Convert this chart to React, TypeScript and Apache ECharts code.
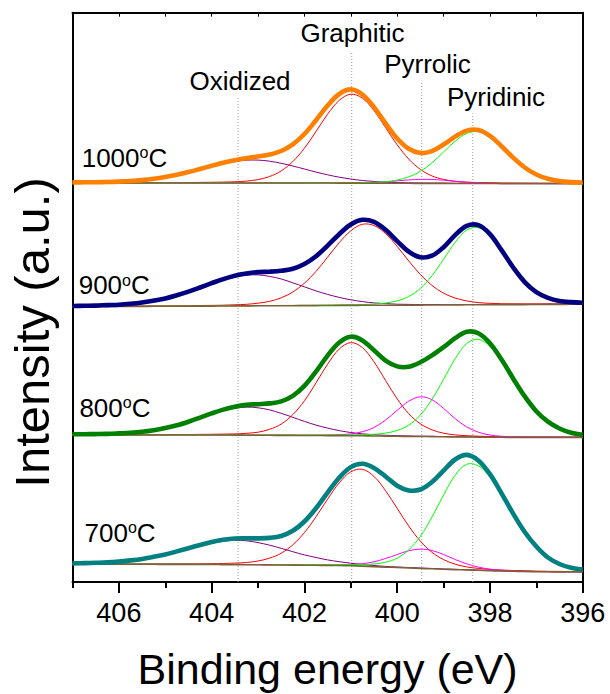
import React, { useEffect, useRef } from 'react';
import * as echarts from 'echarts';

const FONT = '"Liberation Sans", Arial, Helvetica, sans-serif';

// Binding-energy grid shared by every curve (eV)
const energy = [
  407, 406.75, 406.5, 406.25, 406, 405.75, 405.5, 405.25, 405, 404.75,
  404.5, 404.25, 404, 403.75, 403.5, 403.25, 403, 402.75, 402.5, 402.25,
  402, 401.75, 401.5, 401.25, 401, 400.75, 400.5, 400.25, 400, 399.75,
  399.5, 399.25, 399, 398.75, 398.5, 398.25, 398, 397.75, 397.5, 397.25,
  397, 396.75, 396.5, 396.25, 396,
];

const majorTicks = [396, 398, 400, 402, 404, 406];
const minorTicks = [397, 399, 401, 403, 405, 407];
const topTicks = [396, 397, 398, 399, 400, 401, 402, 403, 404, 405, 406, 407];

const peakNames = ['Oxidized', 'Graphitic', 'Pyrrolic', 'Pyridinic'];
const peakPositions = [403.43, 400.98, 399.47, 398.37];

const temperatures = ['1000', '900', '800', '700'];
// vertical stacking of the four spectra (intensity units)
const stackOffsets = [399, 275.3, 147, 17.7];

// ---- 1000 °C ----
const background1000 = [
  0, 0, 0, 0, 0, 0, 0, 0, 0, 0,
  0, 0, 0, 0, 0, 0, 0, 0, 0, 0,
  0, 0, 0, -0.1, -0.1, -0.2, -0.2, -0.3, -0.3, -0.3,
  -0.4, -0.4, -0.4, -0.5, -0.5, -0.5, -0.5, -0.6, -0.6, -0.6,
  -0.6, -0.6, -0.6, -0.6, -0.6,
];
const oxidized1000 = [
  0.3, 0.4, 0.5, 0.7, 1.0, 1.6, 2.5, 3.7, 5.5, 7.7,
  10.3, 13.3, 16.4, 19.2, 21.5, 22.8, 22.9, 21.8, 19.7, 17.0,
  14.0, 10.9, 8.2, 5.9, 4.1, 2.7, 1.8, 1.1, 0.7, 0.5,
  0.4, 0.3, 0.3, 0.2, 0.2, 0.2, 0.2, 0.2, 0.2, 0.1,
  0.1, 0.1, 0.1, 0.1, 0.1,
];
const graphitic1000 = [
  0.2, 0.2, 0.2, 0.2, 0.3, 0.3, 0.3, 0.4, 0.4, 0.5,
  0.5, 0.6, 0.7, 0.9, 1.2, 1.9, 3.4, 6.5, 12.1, 21.4,
  34.8, 51.5, 68.8, 82.7, 88.9, 85.0, 72.6, 55.7, 38.5, 24.2,
  14.0, 7.5, 4.0, 2.2, 1.3, 1.0, 0.8, 0.6, 0.5, 0.5,
  0.4, 0.4, 0.3, 0.3, 0.3,
];
const pyrrolic1000 = [
  0, 0, 0, 0, 0, 0, 0, 0, 0, 0,
  0, 0, 0, 0, 0, 0, 0, 0, 0, 0,
  0, 0.1, 0.1, 0.1, 0.2, 0.4, 0.8, 1.5, 2.4, 3.4,
  4.0, 3.9, 3.2, 2.2, 1.3, 0.7, 0.3, 0.1, 0.1, 0.1,
  0.1, 0, 0, 0, 0,
];
const pyridinic1000 = [
  0.1, 0.1, 0.1, 0.1, 0.1, 0.1, 0.1, 0.1, 0.1, 0.1,
  0.1, 0.1, 0.1, 0.1, 0.1, 0.1, 0.2, 0.2, 0.2, 0.2,
  0.2, 0.3, 0.3, 0.4, 0.5, 0.6, 0.9, 1.6, 3.2, 6.4,
  12.0, 20.6, 31.4, 42.3, 50.1, 51.7, 46.4, 36.4, 25.2, 15.4,
  8.5, 4.3, 2.1, 1.1, 0.7,
];

// ---- 900 °C ----
const background900 = [
  0, 0.1, 0.1, 0.2, 0.2, 0.3, 0.3, 0.4, 0.4, 0.5,
  0.5, 0.6, 0.6, 0.7, 0.8, 0.8, 0.9, 0.9, 1.0, 1.0,
  1.1, 1.1, 1.2, 1.3, 1.3, 1.4, 1.4, 1.5, 1.5, 1.6,
  1.6, 1.7, 1.8, 1.8, 1.9, 1.9, 2.0, 2.0, 2.1, 2.1,
  2.2, 2.3, 2.3, 2.4, 2.4,
];
const oxidized900 = [
  0.4, 0.5, 0.7, 1.0, 1.4, 2.2, 3.5, 5.2, 7.4, 10.4,
  14.0, 17.9, 22.1, 26.0, 29.0, 30.7, 30.9, 29.4, 26.7, 22.9,
  18.8, 14.7, 11.1, 8.0, 5.6, 3.7, 2.4, 1.6, 1.0, 0.7,
  0.5, 0.4, 0.4, 0.3, 0.3, 0.3, 0.3, 0.2, 0.2, 0.2,
  0.2, 0.2, 0.2, 0.2, 0.2,
];
const graphitic900 = [
  0.2, 0.2, 0.2, 0.3, 0.3, 0.3, 0.3, 0.4, 0.4, 0.5,
  0.5, 0.6, 0.7, 0.8, 1.1, 1.6, 2.6, 4.5, 7.9, 13.7,
  22.4, 34.2, 48.3, 62.7, 74.6, 81.0, 79.8, 71.6, 58.8, 44.1,
  30.6, 19.6, 11.7, 6.9, 3.9, 2.2, 1.4, 1.0, 0.8, 0.7,
  0.6, 0.5, 0.4, 0.4, 0.4,
];
const pyridinic900 = [
  0.1, 0.1, 0.1, 0.1, 0.1, 0.1, 0.1, 0.1, 0.1, 0.1,
  0.1, 0.1, 0.1, 0.1, 0.1, 0.1, 0.2, 0.2, 0.3, 0.3,
  0.3, 0.4, 0.5, 0.5, 0.7, 0.8, 1.2, 2.2, 4.3, 8.6,
  16.7, 29.3, 45.6, 62.6, 74.7, 77.1, 68.9, 53.4, 36.2, 21.6,
  11.6, 5.9, 2.9, 1.6, 1.0,
];

// ---- 800 °C ----
const background800 = [
  0, 0, 0, 0, 0, 0, 0, 0, 0, 0,
  0, 0, 0, 0, -0.1, -0.2, -0.3, -0.3, -0.4, -0.4,
  -0.5, -0.5, -0.6, -0.6, -0.7, -0.8, -1.0, -1.1, -1.3, -1.4,
  -1.5, -1.6, -1.8, -1.9, -2.0, -2.1, -2.2, -2.3, -2.4, -2.4,
  -2.4, -2.4, -2.4, -2.4, -2.4,
];
const oxidized800 = [
  0.3, 0.4, 0.5, 0.7, 1.1, 1.7, 2.7, 4.2, 6.4, 9.0,
  12.5, 16.5, 20.6, 24.2, 26.9, 28.1, 27.5, 25.4, 22.1, 18.1,
  14.1, 10.4, 7.5, 5.0, 3.2, 2.0, 1.3, 0.8, 0.6, 0.4,
  0.3, 0.3, 0.2, 0.2, 0.2, 0.2, 0.2, 0.1, 0.1, 0.1,
  0.1, 0.1, 0.1, 0.1, 0.1,
];
const graphitic800 = [
  0.2, 0.2, 0.2, 0.2, 0.3, 0.3, 0.3, 0.4, 0.4, 0.5,
  0.5, 0.6, 0.7, 0.9, 1.2, 1.9, 3.1, 6.0, 11.3, 20.8,
  34.7, 52.6, 71.4, 86.5, 93.1, 88.2, 74.2, 55.6, 37.4, 22.7,
  12.7, 6.8, 3.6, 2.0, 1.3, 0.9, 0.7, 0.6, 0.5, 0.5,
  0.4, 0.4, 0.3, 0.3, 0.3,
];
const pyrrolic800 = [
  0.1, 0.1, 0.1, 0.1, 0.1, 0.1, 0.1, 0.1, 0.1, 0.1,
  0.1, 0.1, 0.1, 0.1, 0.1, 0.1, 0.2, 0.2, 0.2, 0.2,
  0.3, 0.4, 0.5, 0.9, 1.8, 4.1, 8.5, 16.1, 26.0, 35.2,
  39.7, 36.9, 28.4, 18.3, 10.1, 4.9, 2.2, 1.0, 0.6, 0.4,
  0.3, 0.3, 0.2, 0.2, 0.2,
];
const pyridinic800 = [
  0.1, 0.1, 0.1, 0.1, 0.1, 0.1, 0.1, 0.1, 0.1, 0.1,
  0.2, 0.2, 0.2, 0.2, 0.2, 0.2, 0.3, 0.3, 0.4, 0.4,
  0.5, 0.5, 0.6, 0.7, 0.9, 1.1, 1.7, 3.0, 5.9, 11.3,
  21.5, 37.2, 57.4, 78.2, 93.6, 97.8, 90.8, 76.0, 57.8, 40.0,
  25.4, 14.9, 8.3, 4.0, 2.0,
];

// ---- 700 °C ----
const background700 = [
  0, 0, 0, 0, 0, 0, 0, 0, -0.1, -0.1,
  -0.1, -0.2, -0.2, -0.3, -0.3, -0.4, -0.5, -0.6, -0.7, -0.8,
  -0.9, -1.0, -1.1, -1.2, -1.4, -1.8, -2.3, -2.8, -3.2, -3.6,
  -4.1, -4.5, -4.9, -5.3, -5.6, -6.0, -6.4, -6.7, -7.0, -7.2,
  -7.4, -7.5, -7.6, -7.6, -7.6,
];
const oxidized700 = [
  0.4, 0.6, 0.9, 1.3, 2.1, 3.2, 4.7, 6.8, 9.1, 12.1,
  15.3, 18.5, 21.3, 23.4, 24.3, 23.9, 22.2, 19.7, 16.7, 13.4,
  10.3, 7.8, 5.5, 3.8, 2.5, 1.6, 1.1, 0.7, 0.5, 0.4,
  0.3, 0.3, 0.2, 0.2, 0.2, 0.2, 0.2, 0.1, 0.1, 0.1,
  0.1, 0.1, 0.1, 0.1, 0.1,
];
const graphitic700 = [
  0.2, 0.3, 0.3, 0.3, 0.3, 0.4, 0.4, 0.4, 0.5, 0.6,
  0.6, 0.7, 0.9, 1.1, 1.5, 2.2, 3.8, 6.8, 11.8, 20.3,
  32.6, 48.5, 66.3, 82.6, 93.9, 96.8, 90.2, 76.4, 59.1, 41.8,
  27.3, 16.5, 9.6, 5.4, 3.0, 1.9, 1.3, 1.0, 0.8, 0.7,
  0.6, 0.5, 0.5, 0.4, 0.4,
];
const pyrrolic700 = [
  0.1, 0.1, 0.1, 0.1, 0.1, 0.1, 0.1, 0.1, 0.1, 0.1,
  0.1, 0.1, 0.1, 0.1, 0.1, 0.1, 0.1, 0.1, 0.1, 0.1,
  0.2, 0.2, 0.3, 0.5, 1.1, 2.4, 4.8, 8.6, 12.9, 17.2,
  19.3, 18.3, 14.7, 10.1, 6.1, 3.2, 1.5, 0.7, 0.4, 0.2,
  0.2, 0.2, 0.1, 0.1, 0.1,
];
const pyridinic700 = [
  0.2, 0.2, 0.2, 0.2, 0.2, 0.2, 0.2, 0.2, 0.2, 0.2,
  0.2, 0.2, 0.2, 0.2, 0.2, 0.2, 0.3, 0.4, 0.4, 0.5,
  0.6, 0.6, 0.7, 0.9, 1.1, 1.6, 2.6, 4.9, 9.3, 18.1,
  32.0, 51.7, 74.1, 94.4, 105.7, 104.5, 93.5, 75.9, 56.4, 38.5,
  24.3, 13.5, 7.2, 3.6, 1.8,
];

const envelopeColors = ['#FF8000', '#000080', '#008000', '#008080'];
const componentColors = ['#800080', '#FF0000', '#FF00FF', '#00FF00'];
const backgroundColor = '#80603A';

const spectra = [
  { background: background1000, parts: [oxidized1000, graphitic1000, pyrrolic1000, pyridinic1000] },
  { background: background900, parts: [oxidized900, graphitic900, null, pyridinic900] },
  { background: background800, parts: [oxidized800, graphitic800, pyrrolic800, pyridinic800] },
  { background: background700, parts: [oxidized700, graphitic700, pyrrolic700, pyridinic700] },
];

// Layout of the annotation texts (pixels)
const guideTops = [483.7, 530.3, 500.3, 468.7];
const peakLabelPos = [[240, 80.5], [352.5, 33.4], [427.5, 64.3], [496, 96.7]];
const tempLabelPos = [[81.7, 157.5], [78.7, 285], [79.4, 407.5], [84.6, 532.8]];

const Y_MAX = 569.3;

// One smooth curve drawn as a single polyline through the axis scales
function curveSeries(points: number[][], color: string, width: number, z: number) {
  return {
    type: 'custom',
    coordinateSystem: 'cartesian2d',
    data: points,
    encode: { x: 0, y: 1 },
    z,
    silent: true,
    clip: true,
    renderItem: (params: any, api: any) => {
      if (params.dataIndexInside !== 0) return null;
      const n = params.dataInsideLength;
      const pts: number[][] = [];
      for (let i = 0; i < n; i++) {
        pts.push(api.coord([api.value(0, i), api.value(1, i)]));
      }
      return {
        type: 'polyline',
        shape: { points: pts, smooth: 0.35 },
        style: { stroke: color, lineWidth: width, fill: null, lineJoin: 'round' },
      };
    },
  };
}

export default function App() {
  const ref = useRef<HTMLDivElement>(null);

  useEffect(() => {
    if (!ref.current) return;
    const chart = echarts.init(ref.current, null, { renderer: 'svg' });

    const series: any[] = [];

    peakPositions.forEach((x, k) => {
      series.push({
        type: 'line',
        data: [[x, 0], [x, guideTops[k]]],
        symbol: 'none',
        silent: true,
        z: 1,
        lineStyle: { color: '#9a9a9a', width: 1, type: [1, 2] },
      });
    });

    spectra.forEach((s, si) => {
      const off = stackOffsets[si];
      s.parts.forEach((p, k) => {
        if (!p) return;
        series.push(curveSeries(energy.map((e, i) => [e, off + s.background[i] + p[i]]), componentColors[k], 1, 2));
      });
      series.push(curveSeries(energy.map((e, i) => [e, off + s.background[i]]), backgroundColor, 1.6, 3));
      series.push(curveSeries(
        energy.map((e, i) => {
          let total = s.background[i];
          s.parts.forEach((p) => { if (p) total += p[i]; });
          return [e, off + total];
        }),
        envelopeColors[si], 4.6, 4,
      ));
    });

    const graphic: any[] = [];
    peakNames.forEach((name, k) => {
      graphic.push({
        type: 'text',
        x: peakLabelPos[k][0],
        y: peakLabelPos[k][1],
        z: 10,
        style: {
          text: name,
          fontSize: 26,
          fontFamily: FONT,
          fill: '#000',
          align: 'center',
          verticalAlign: 'middle',
        },
      });
    });
    temperatures.forEach((t, k) => {
      graphic.push({
        type: 'text',
        x: tempLabelPos[k][0],
        y: tempLabelPos[k][1],
        z: 10,
        style: {
          text: `{n|${t}}{s|o}{n|C}`,
          fill: '#000',
          align: 'left',
          verticalAlign: 'middle',
          rich: {
            n: { fontSize: 26, fontFamily: FONT, fill: '#000' },
            s: { fontSize: 16, fontFamily: FONT, fill: '#000', verticalAlign: 'top' },
          },
        },
      });
    });
    graphic.push({
      type: 'text',
      x: 31.5,
      y: 332.5,
      rotation: Math.PI / 2,
      style: {
        text: 'Intensity (a.u.)',
        fontSize: 49,
        fontFamily: FONT,
        fill: '#000',
        align: 'center',
        verticalAlign: 'middle',
      },
    });
    graphic.push({
      type: 'text',
      x: 327.6,
      y: 668.7,
      style: {
        text: 'Binding energy (eV)',
        fontSize: 43,
        fontFamily: FONT,
        fill: '#000',
        align: 'center',
        verticalAlign: 'middle',
      },
    });

    const frameLine = { show: true, onZero: false, lineStyle: { color: '#000', width: 2 } };

    chart.setOption({
      animation: false,
      backgroundColor: '#fff',
      grid: { left: 72.5, right: 27.3, top: 12.7, bottom: 112, containLabel: false },
      xAxis: [
        {
          type: 'value', position: 'bottom', min: 396, max: 407, inverse: true,
          axisLine: frameLine,
          axisTick: { show: true, inside: false, length: 11, customValues: majorTicks, lineStyle: { color: '#000', width: 2 } },
          axisLabel: { show: true, customValues: majorTicks, fontSize: 27, fontFamily: FONT, color: '#000', margin: 17 },
          splitLine: { show: false },
        },
        {
          type: 'value', position: 'bottom', min: 396, max: 407, inverse: true,
          axisLine: { show: false, onZero: false },
          axisTick: { show: true, inside: false, length: 6, customValues: minorTicks, lineStyle: { color: '#000', width: 2 } },
          axisLabel: { show: false },
          splitLine: { show: false },
        },
        {
          type: 'value', position: 'top', min: 396, max: 407, inverse: true,
          axisLine: frameLine,
          axisTick: { show: true, inside: true, length: 4, customValues: topTicks, lineStyle: { color: '#000', width: 1 } },
          axisLabel: { show: false },
          splitLine: { show: false },
        },
      ],
      yAxis: [
        {
          type: 'value', position: 'left', min: 0, max: Y_MAX,
          axisLine: frameLine, axisTick: { show: false }, axisLabel: { show: false }, splitLine: { show: false },
        },
        {
          type: 'value', position: 'right', min: 0, max: Y_MAX,
          axisLine: frameLine, axisTick: { show: false }, axisLabel: { show: false }, splitLine: { show: false },
        },
      ],
      series,
      graphic,
    });

    return () => chart.dispose();
  }, []);

  return (
    <div
      ref={ref}
      style={{ position: 'fixed', left: 0, top: 0, width: 610, height: 694, background: '#fff' }}
    />
  );
}
